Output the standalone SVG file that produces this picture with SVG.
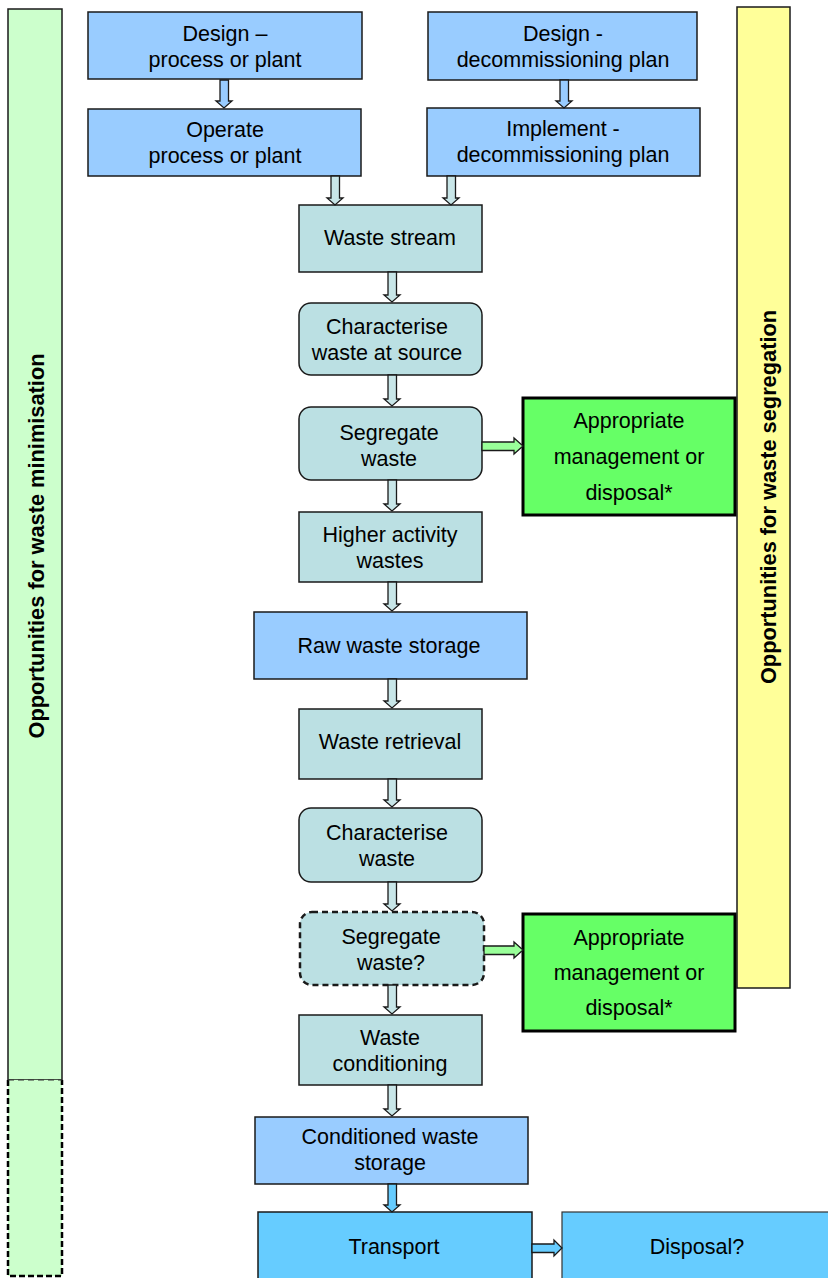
<svg xmlns="http://www.w3.org/2000/svg" width="828" height="1278" viewBox="0 0 828 1278">
<style>
text{font-family:"Liberation Sans",Arial,sans-serif;font-size:21.5px;fill:#000;text-anchor:middle}
.side{font-weight:bold;font-size:21.8px}
.box{stroke:#1a1a1a;stroke-width:1.5}
.blue{fill:#99CCFF}
.teal{fill:#BBE0E3}
.sky{fill:#66CCFF}
.green{fill:#66FF66;stroke:#000;stroke-width:3}
.arr{stroke:#1a1a1a;stroke-width:1.3;stroke-linejoin:miter}
.aBlue{fill:#99CCFF}
.aTeal{fill:#C8E6E8}
.aGreen{fill:#99FF99}
.aSky{fill:#66CCFF}
</style>

<g id="bar-minimisation">
  <rect x="8" y="9" width="54" height="1071" fill="#CCFFCC" stroke="#1a1a1a" stroke-width="1.5"/>
  <rect x="8" y="1080" width="54" height="196" fill="#CCFFCC" stroke="none"/>
  <path d="M8,1080 V1276 H62 V1080" fill="none" stroke="#000" stroke-width="2.5" stroke-dasharray="6,3"/>
  <line x1="8" y1="1080" x2="62" y2="1080" stroke="#333" stroke-width="1" stroke-dasharray="6,4"/>
  <text class="side" transform="translate(44,546) rotate(-90)">Opportunities for waste minimisation</text>
</g>

<g id="bar-segregation">
  <rect x="737" y="7" width="53" height="981" fill="#FFFF99" stroke="#1a1a1a" stroke-width="1.5"/>
  <text class="side" transform="translate(776,497) rotate(-90)">Opportunities for waste segregation</text>
</g>

<g id="design-process">
  <rect class="box blue" x="88" y="12" width="274" height="67"/>
  <text x="225" y="41">Design –</text>
  <text x="225" y="67">process or plant</text>
</g>
<g id="design-decom">
  <rect class="box blue" x="428" y="12" width="269" height="68"/>
  <text x="563" y="41">Design -</text>
  <text x="563" y="67">decommissioning plan</text>
</g>
<g id="operate">
  <rect class="box blue" x="88" y="109" width="273" height="67"/>
  <text x="225" y="137">Operate</text>
  <text x="225" y="163">process or plant</text>
</g>
<g id="implement">
  <rect class="box blue" x="427" y="108" width="273" height="68"/>
  <text x="563" y="136">Implement -</text>
  <text x="563" y="162">decommissioning plan</text>
</g>
<g id="waste-stream">
  <rect class="box teal" x="299" y="205" width="183" height="67"/>
  <text x="390" y="245">Waste stream</text>
</g>
<g id="characterise-source">
  <rect class="box teal" x="299" y="303" width="183" height="72" rx="12"/>
  <text x="387" y="334">Characterise</text>
  <text x="387" y="360">waste at source</text>
</g>
<g id="segregate-1">
  <rect class="box teal" x="299" y="407" width="183" height="73" rx="12"/>
  <text x="389" y="440">Segregate</text>
  <text x="389" y="466">waste</text>
</g>
<g id="appropriate-1">
  <rect class="green" x="523" y="398" width="212" height="117"/>
  <text x="629" y="428">Appropriate</text>
  <text x="629" y="464">management or</text>
  <text x="629" y="500">disposal*</text>
</g>
<g id="higher-activity">
  <rect class="box teal" x="299" y="512" width="183" height="70"/>
  <text x="390" y="542">Higher activity</text>
  <text x="390" y="568">wastes</text>
</g>
<g id="raw-storage">
  <rect class="box blue" x="254" y="612" width="273" height="67"/>
  <text x="389" y="653">Raw waste storage</text>
</g>
<g id="retrieval">
  <rect class="box teal" x="299" y="709" width="183" height="70"/>
  <text x="390" y="749">Waste retrieval</text>
</g>
<g id="characterise">
  <rect class="box teal" x="299" y="808" width="183" height="74" rx="12"/>
  <text x="387" y="840">Characterise</text>
  <text x="387" y="866">waste</text>
</g>
<g id="segregate-2">
  <rect class="teal" x="300" y="912" width="184" height="73" rx="12" stroke="#1a1a1a" stroke-width="2.5" stroke-dasharray="6,4"/>
  <text x="391" y="944">Segregate</text>
  <text x="391" y="970">waste?</text>
</g>
<g id="appropriate-2">
  <rect class="green" x="523" y="914" width="212" height="117"/>
  <text x="629" y="945">Appropriate</text>
  <text x="629" y="980">management or</text>
  <text x="629" y="1015">disposal*</text>
</g>
<g id="conditioning">
  <rect class="box teal" x="299" y="1015" width="183" height="70"/>
  <text x="390" y="1045">Waste</text>
  <text x="390" y="1071">conditioning</text>
</g>
<g id="conditioned-storage">
  <rect class="box blue" x="255" y="1117" width="273" height="67"/>
  <text x="390" y="1144">Conditioned waste</text>
  <text x="390" y="1170">storage</text>
</g>
<g id="transport">
  <rect class="box sky" x="258" y="1212" width="274" height="70"/>
  <text x="394" y="1254">Transport</text>
</g>
<g id="disposal">
  <rect class="sky" x="562" y="1212" width="270" height="70" stroke="#333" stroke-width="1.2"/>
  <text x="697" y="1254">Disposal?</text>
</g>

<g id="connectors">
  <path class="arr aBlue" d="M220,80 H228.5 V101 H232 L224,108 L216,101 H220 Z"/>
  <path class="arr aBlue" d="M560,80 H568.5 V101 H572 L564,108 L556,101 H560 Z"/>
  <path class="arr aTeal" d="M331,176 H339.5 V198 H343 L335,205 L327,198 H331 Z"/>
  <path class="arr aTeal" d="M447,176 H455.5 V198 H459 L451,205 L443,198 H447 Z"/>
  <path class="arr aTeal" d="M388,272 H396.5 V295 H400 L392,302 L384,295 H388 Z"/>
  <path class="arr aTeal" d="M388,375 H396.5 V399 H400 L392,406 L384,399 H388 Z"/>
  <path class="arr aTeal" d="M388,480 H396.5 V504 H400 L392,511 L384,504 H388 Z"/>
  <path class="arr aTeal" d="M388,582 H396.5 V604 H400 L392,611 L384,604 H388 Z"/>
  <path class="arr aTeal" d="M388,679 H396.5 V701 H400 L392,708 L384,701 H388 Z"/>
  <path class="arr aTeal" d="M388,779 H396.5 V800 H400 L392,807 L384,800 H388 Z"/>
  <path class="arr aTeal" d="M388,882 H396.5 V904 H400 L392,911 L384,904 H388 Z"/>
  <path class="arr aTeal" d="M388,985 H396.5 V1007 H400 L392,1014 L384,1007 H388 Z"/>
  <path class="arr aTeal" d="M388,1085 H396.5 V1109 H400 L392,1116 L384,1109 H388 Z"/>
  <path class="arr aSky" d="M388,1184 H396.5 V1205 H400 L392,1212 L384,1205 H388 Z"/>
  <path class="arr aGreen" d="M482,442 V450.5 H514 V454 L523,446 L514,438 V442 Z"/>
  <path class="arr aGreen" d="M484,946 V954.5 H514 V958 L523,950 L514,942 V946 Z"/>
  <path class="arr aSky" d="M532,1244 V1252.5 H554 V1256 L562,1248 L554,1240 V1244 Z"/>
</g>
</svg>
